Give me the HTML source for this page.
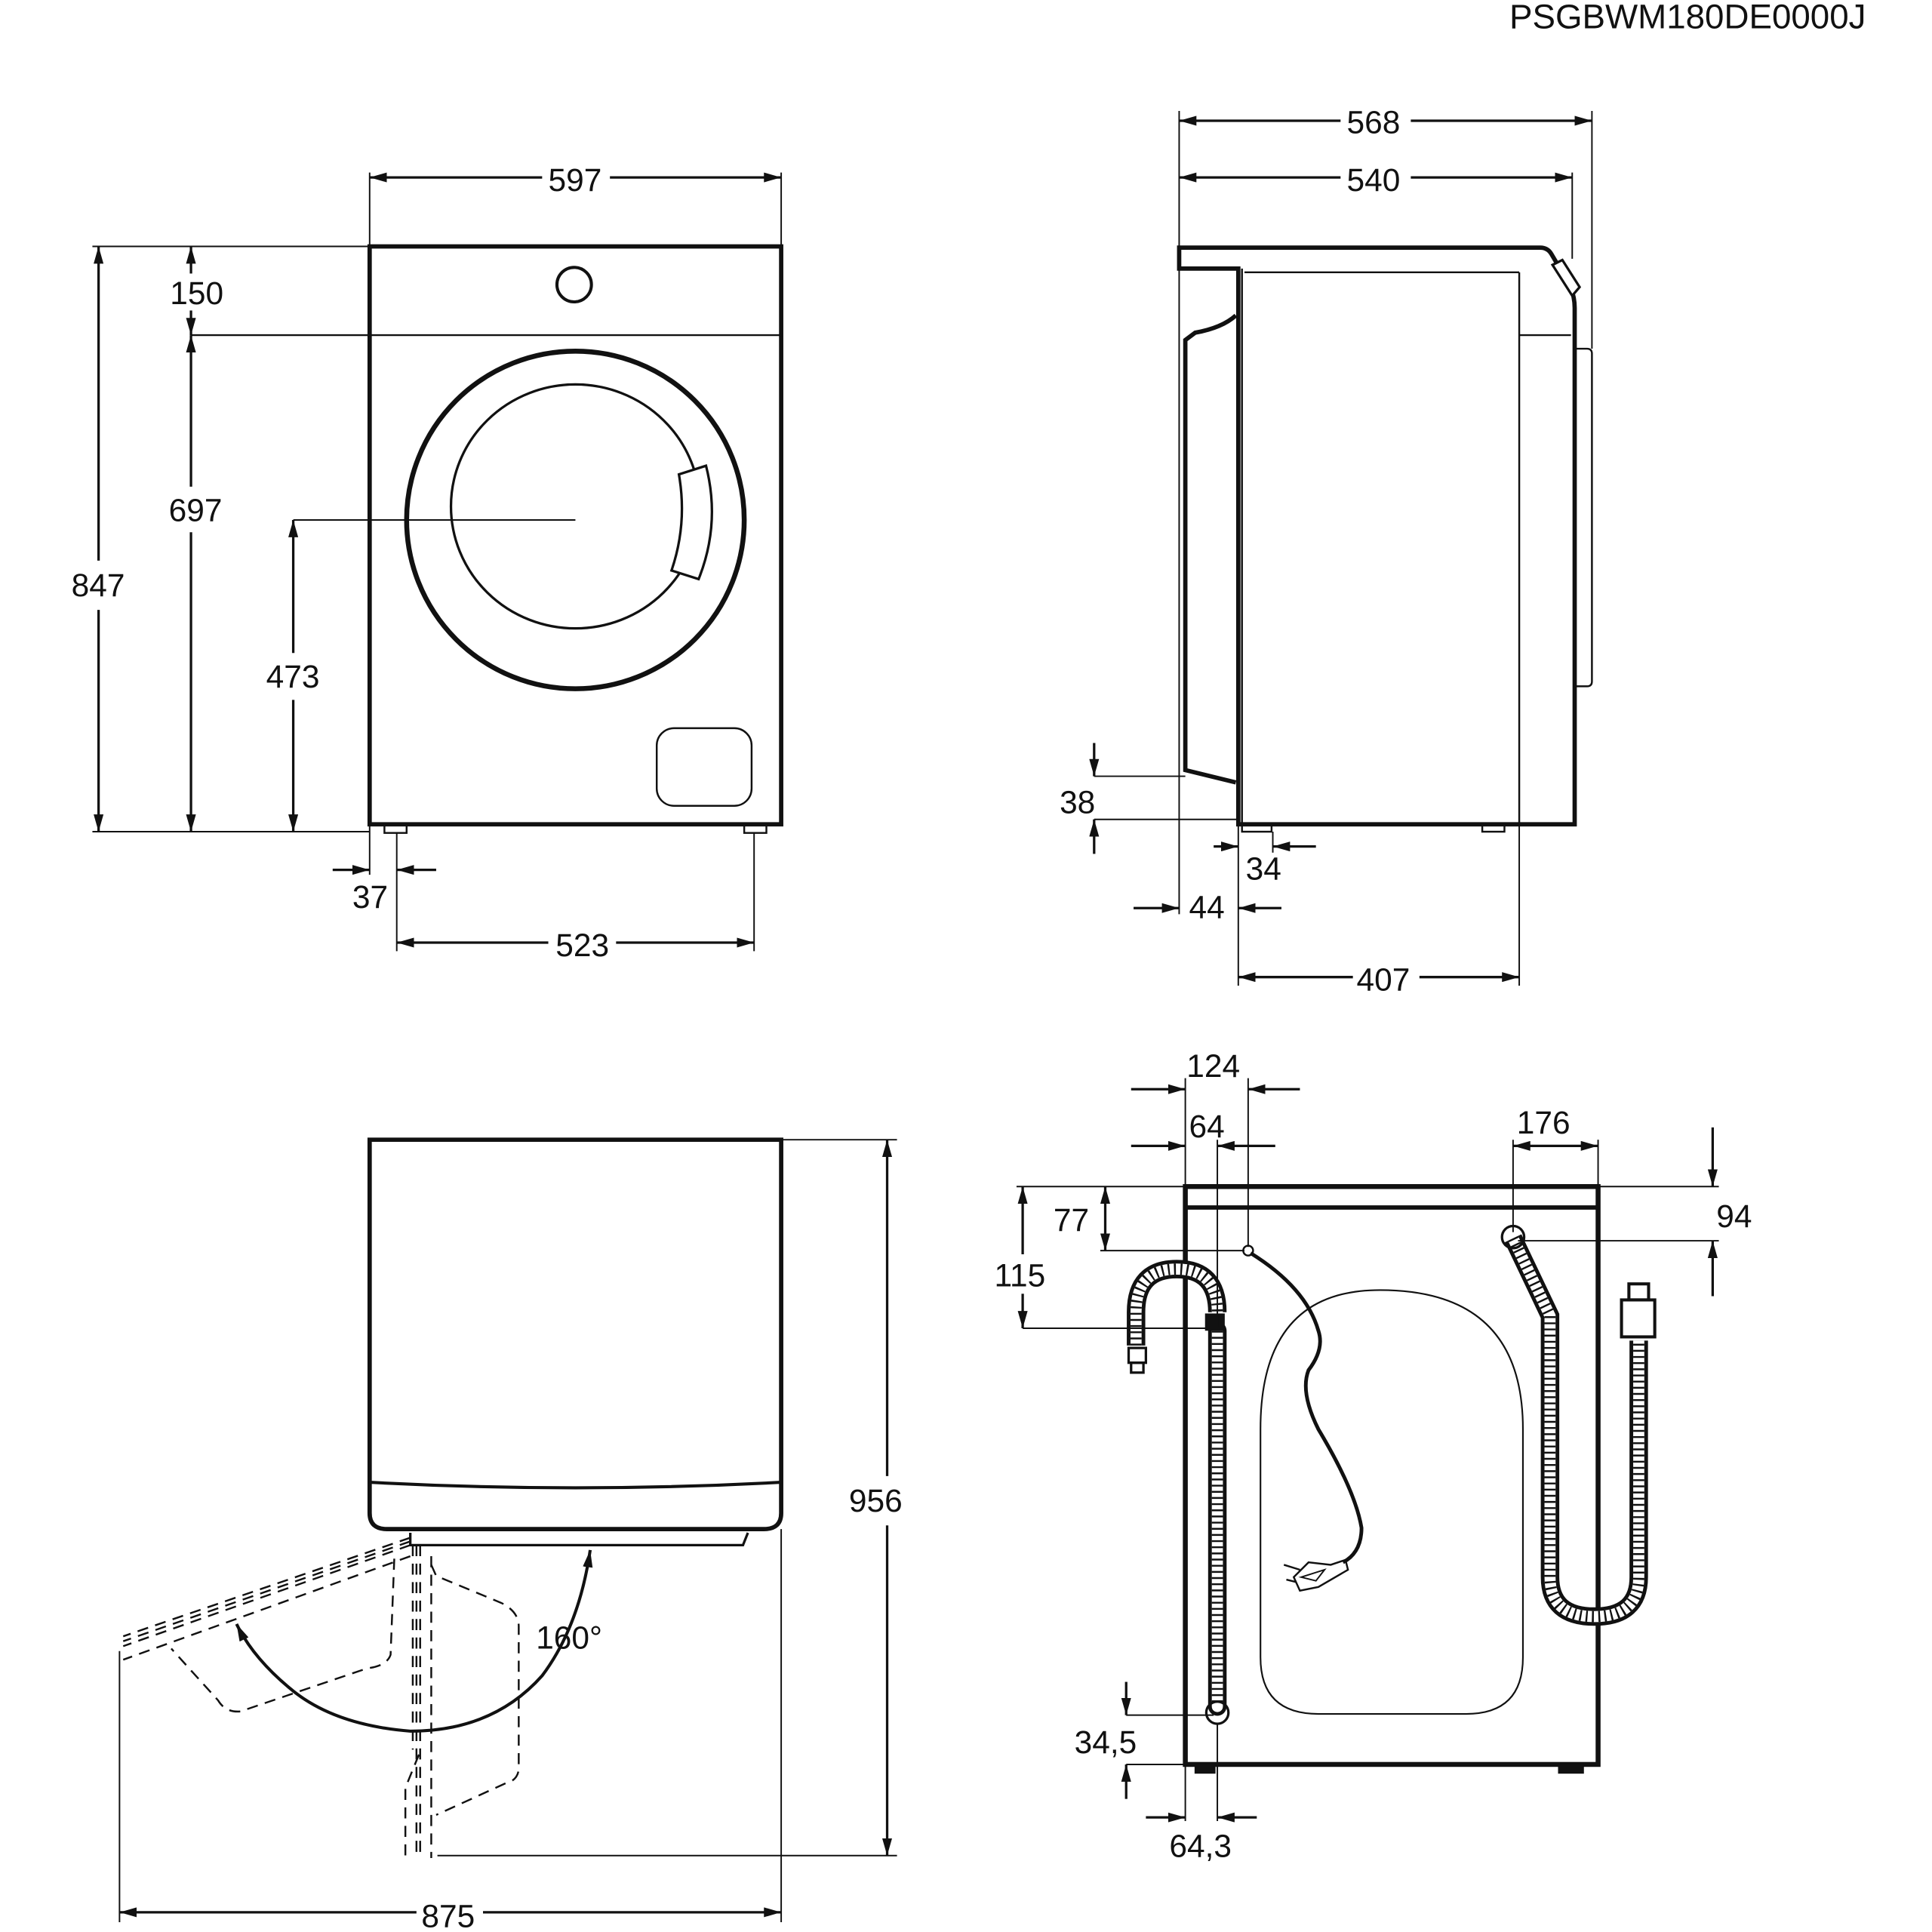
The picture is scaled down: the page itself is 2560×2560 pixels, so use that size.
<!DOCTYPE html>
<html><head><meta charset="utf-8"><style>html,body{margin:0;padding:0;background:#fff}svg{display:block}text{font-family:"Liberation Sans",sans-serif;font-size:26px;fill:#111}</style></head>
<body>
<svg width="2560" height="2560" viewBox="0 0 1568 1568" xmlns="http://www.w3.org/2000/svg">
<defs>
<marker id="a" viewBox="0 0 14 8" refX="14" refY="4" markerWidth="14" markerHeight="8" markerUnits="userSpaceOnUse" orient="auto-start-reverse"><path d="M0,0 L14,4 L0,8z" fill="#111"/></marker>
</defs>
<text x="1225" y="23" style="font-size:28px">PSGBWM180DE0000J</text>

<g fill="none" stroke="#111">
<!-- FRONT VIEW -->
<rect x="300" y="200" width="334" height="469" stroke-width="3.5"/>
<line x1="155" y1="272" x2="634" y2="272" stroke-width="1.5"/>
<circle cx="466" cy="231" r="14" stroke-width="2.5"/>
<ellipse cx="467" cy="422" rx="137" ry="137" stroke-width="4"/>
<ellipse cx="467" cy="411" rx="101" ry="99" stroke-width="2"/>
<path d="M551,385 L573,378 Q585,425 567,470 L545,463 Q558,425 551,385z" fill="#fff" stroke-width="2"/>
<rect x="533" y="591" width="77" height="63" rx="14" stroke-width="1.5"/>
<rect x="312" y="669" width="18" height="7" stroke-width="1.5"/>
<rect x="604" y="669" width="18" height="7" stroke-width="1.5"/>
<line x1="300" y1="140" x2="300" y2="200" stroke-width="1.2"/>
<line x1="634" y1="140" x2="634" y2="200" stroke-width="1.2"/>
<line x1="300" y1="144" x2="440" y2="144" stroke-width="2" marker-start="url(#a)"/>
<line x1="495" y1="144" x2="634" y2="144" stroke-width="2" marker-end="url(#a)"/>
<line x1="75" y1="200" x2="300" y2="200" stroke-width="1.2"/>
<line x1="75" y1="675" x2="300" y2="675" stroke-width="1.2"/>
<line x1="80" y1="200" x2="80" y2="455" stroke-width="2" marker-start="url(#a)"/>
<line x1="80" y1="495" x2="80" y2="675" stroke-width="2" marker-end="url(#a)"/>
<line x1="155" y1="200" x2="155" y2="222" stroke-width="2" marker-start="url(#a)"/>
<line x1="155" y1="252" x2="155" y2="272" stroke-width="2" marker-end="url(#a)"/>
<line x1="155" y1="272" x2="155" y2="395" stroke-width="2" marker-start="url(#a)"/>
<line x1="155" y1="432" x2="155" y2="675" stroke-width="2" marker-end="url(#a)"/>
<line x1="238" y1="422" x2="467" y2="422" stroke-width="1.2"/>
<line x1="238" y1="422" x2="238" y2="530" stroke-width="2" marker-start="url(#a)"/>
<line x1="238" y1="568" x2="238" y2="675" stroke-width="2" marker-end="url(#a)"/>
<line x1="300" y1="669" x2="300" y2="710" stroke-width="1.2"/>
<line x1="322" y1="676" x2="322" y2="772" stroke-width="1.2"/>
<line x1="612" y1="676" x2="612" y2="772" stroke-width="1.2"/>
<line x1="270" y1="706" x2="300" y2="706" stroke-width="2" marker-end="url(#a)"/>
<line x1="354" y1="706" x2="322" y2="706" stroke-width="2" marker-end="url(#a)"/>
<line x1="322" y1="765" x2="445" y2="765" stroke-width="2" marker-start="url(#a)"/>
<line x1="500" y1="765" x2="612" y2="765" stroke-width="2" marker-end="url(#a)"/>

<!-- SIDE VIEW -->
<path d="M957,201 L1250,201 Q1256,201 1259,206 L1272,228 Q1278,238 1278,250 L1278,669 L1005,669 L1005,218 L957,218z" stroke-width="3.5"/>
<line x1="1010" y1="221" x2="1233" y2="221" stroke-width="1.5"/>
<line x1="1233" y1="221" x2="1233" y2="669" stroke-width="1.5"/>
<line x1="1008" y1="218" x2="1008" y2="669" stroke-width="1.5"/>
<line x1="1233" y1="272" x2="1275" y2="272" stroke-width="1.5"/>
<path d="M1260,215 L1268,211 L1282,233 L1276,240z" fill="#fff" stroke-width="2"/>
<path d="M1003,256 Q992,266 970,270 L962,276 L962,625 L1003,635" stroke-width="3.5"/>
<path d="M1278,283 L1288,283 Q1292,283 1292,287 L1292,553 Q1292,557 1288,557 L1278,557" stroke-width="1.5"/>
<rect x="1008" y="669" width="24" height="6" stroke-width="1.5"/>
<rect x="1203" y="669" width="18" height="6" stroke-width="1.5"/>
<line x1="957" y1="90" x2="957" y2="742" stroke-width="1.2"/>
<line x1="1292" y1="90" x2="1292" y2="283" stroke-width="1.2"/>
<line x1="1276" y1="140" x2="1276" y2="210" stroke-width="1.2"/>
<line x1="957" y1="98" x2="1088" y2="98" stroke-width="2" marker-start="url(#a)"/>
<line x1="1145" y1="98" x2="1292" y2="98" stroke-width="2" marker-end="url(#a)"/>
<line x1="957" y1="144" x2="1088" y2="144" stroke-width="2" marker-start="url(#a)"/>
<line x1="1145" y1="144" x2="1276" y2="144" stroke-width="2" marker-end="url(#a)"/>
<line x1="888" y1="630" x2="962" y2="630" stroke-width="1.2"/>
<line x1="888" y1="665" x2="1005" y2="665" stroke-width="1.2"/>
<line x1="888" y1="603" x2="888" y2="630" stroke-width="2" marker-end="url(#a)"/>
<line x1="888" y1="693" x2="888" y2="665" stroke-width="2" marker-end="url(#a)"/>
<line x1="1005" y1="669" x2="1005" y2="800" stroke-width="1.2"/>
<line x1="1033" y1="675" x2="1033" y2="692" stroke-width="1.2"/>
<line x1="1233" y1="669" x2="1233" y2="800" stroke-width="1.2"/>
<line x1="985" y1="687" x2="1005" y2="687" stroke-width="2" marker-end="url(#a)"/>
<line x1="1068" y1="687" x2="1033" y2="687" stroke-width="2" marker-end="url(#a)"/>
<line x1="920" y1="737" x2="957" y2="737" stroke-width="2" marker-end="url(#a)"/>
<line x1="1040" y1="737" x2="1005" y2="737" stroke-width="2" marker-end="url(#a)"/>
<line x1="1005" y1="793" x2="1098" y2="793" stroke-width="2" marker-start="url(#a)"/>
<line x1="1152" y1="793" x2="1233" y2="793" stroke-width="2" marker-end="url(#a)"/>

<!-- TOP VIEW with door -->
<path d="M300,925 L634,925 L634,1228 Q634,1241 620,1241 L314,1241 Q300,1241 300,1228z" stroke-width="3.5"/>
<path d="M300,1203 Q467,1212 634,1203" stroke-width="2.5"/>
<path d="M333,1244 L333,1254 L603,1254 L607,1244" stroke-width="2"/>
<line x1="634" y1="925" x2="728" y2="925" stroke-width="1.2"/>
<line x1="355" y1="1506" x2="728" y2="1506" stroke-width="1.2"/>
<line x1="720" y1="925" x2="720" y2="1198" stroke-width="2" marker-start="url(#a)"/>
<line x1="720" y1="1238" x2="720" y2="1506" stroke-width="2" marker-end="url(#a)"/>
<line x1="97" y1="1340" x2="97" y2="1560" stroke-width="1.2"/>
<line x1="634" y1="1241" x2="634" y2="1560" stroke-width="1.2"/>
<line x1="97" y1="1552" x2="338" y2="1552" stroke-width="2" marker-start="url(#a)"/>
<line x1="392" y1="1552" x2="634" y2="1552" stroke-width="2" marker-end="url(#a)"/>
<g stroke-width="1.5" stroke-dasharray="9,6">
<path d="M333,1248 L100,1328"/>
<path d="M333,1251 L100,1332"/>
<path d="M333,1254 L100,1336"/>
<path d="M333,1263 L100,1347"/>
<path d="M320,1265 L317,1343 Q314,1352 298,1354 L195,1389 Q183,1390 177,1380 L139,1338"/>
<path d="M335,1254 L335,1420"/>
<path d="M338,1254 L338,1506"/>
<path d="M341,1254 L341,1506"/>
<path d="M350,1263 L350,1508"/>
<path d="M350,1270 L354,1279 L407,1301 Q421,1308 421,1320 L421,1436 Q420,1445 411,1447 L354,1473"/>
<path d="M340,1424 L329,1451 L329,1506"/>
</g>
<path d="M479,1258 Q470,1320 440,1360 Q400,1405 333,1405 Q270,1400 235,1370 Q205,1345 192,1318" stroke-width="2.5" marker-start="url(#a)" marker-end="url(#a)"/>

<!-- BACK VIEW -->
<rect x="962" y="963" width="335" height="469" stroke-width="4"/>
<line x1="962" y1="980" x2="1297" y2="980" stroke-width="3.5"/>
<path d="M1120,1047 Q1236,1047 1236,1160 L1236,1345 Q1236,1391 1190,1391 L1070,1391 Q1023,1391 1023,1345 L1023,1160 Q1023,1047 1120,1047z" stroke-width="1.3"/>
<rect x="970" y="1432" width="16" height="7" fill="#111" stroke-width="1"/>
<rect x="1265" y="1432" width="20" height="7" fill="#111" stroke-width="1"/>
<g>
<path d="M988,1080 L988,1385" stroke-width="15" stroke-linecap="round"/>
<path d="M988,1080 L988,1385" stroke="#fff" stroke-width="9" stroke-linecap="round"/>
<path d="M988,1080 L988,1385" stroke-width="9" stroke-dasharray="1.5,3.5"/>
<path d="M922,1092 L922,1065 Q922,1030 955,1030 Q988,1030 988,1065" stroke-width="15"/>
<path d="M922,1092 L922,1065 Q922,1030 955,1030 Q988,1030 988,1065" stroke="#fff" stroke-width="9"/>
<path d="M922,1092 L922,1065 Q922,1030 955,1030 Q988,1030 988,1065" stroke-width="9" stroke-dasharray="1.5,3.5"/>
<rect x="978" y="1066" width="16" height="14" fill="#111" stroke="none"/>
<rect x="916" y="1094" width="14" height="12" stroke-width="2"/>
<rect x="918" y="1106" width="10" height="8" stroke-width="2"/>
<path d="M1228,1005 L1258,1068 L1258,1280 Q1258,1312 1294,1312 Q1330,1312 1330,1280 L1330,1088" stroke-width="15"/>
<path d="M1228,1005 L1258,1068 L1258,1280 Q1258,1312 1294,1312 Q1330,1312 1330,1280 L1330,1088" stroke="#fff" stroke-width="9"/>
<path d="M1228,1005 L1258,1068 L1258,1280 Q1258,1312 1294,1312 Q1330,1312 1330,1280 L1330,1088" stroke-width="9" stroke-dasharray="1.5,3.5"/>
<circle cx="1228" cy="1004" r="9" stroke-width="2"/>
<circle cx="988" cy="1390" r="9" stroke-width="2"/>
<rect x="1316" y="1055" width="27" height="30" stroke-width="2.5"/>
<rect x="1322" y="1042" width="16" height="13" stroke-width="2.5"/>
</g>
<circle cx="1013" cy="1015" r="4" stroke-width="1.5"/>
<path d="M1015,1017 Q1060,1045 1070,1080 Q1075,1095 1062,1112 Q1055,1130 1070,1160 Q1100,1210 1105,1240 Q1105,1260 1090,1268" stroke-width="3"/>
<path d="M1092,1266 L1080,1270 L1062,1268 L1050,1280 L1055,1291 L1070,1288 L1094,1274z" stroke-width="1.5"/>
<path d="M1056,1280 L1075,1274 L1068,1283z" stroke-width="1.2"/>
<line x1="1042" y1="1270" x2="1055" y2="1274" stroke-width="1.5"/>
<line x1="1044" y1="1282" x2="1052" y2="1284" stroke-width="1.5"/>
<line x1="962" y1="875" x2="962" y2="963" stroke-width="1.2"/>
<line x1="1013" y1="875" x2="1013" y2="1012" stroke-width="1.2"/>
<line x1="988" y1="925" x2="988" y2="1078" stroke-width="1.2"/>
<line x1="918" y1="884" x2="962" y2="884" stroke-width="2" marker-end="url(#a)"/>
<line x1="1055" y1="884" x2="1013" y2="884" stroke-width="2" marker-end="url(#a)"/>
<line x1="918" y1="930" x2="962" y2="930" stroke-width="2" marker-end="url(#a)"/>
<line x1="1035" y1="930" x2="988" y2="930" stroke-width="2" marker-end="url(#a)"/>
<line x1="1228" y1="925" x2="1228" y2="1000" stroke-width="1.2"/>
<line x1="1297" y1="925" x2="1297" y2="963" stroke-width="1.2"/>
<line x1="1228" y1="930" x2="1297" y2="930" stroke-width="2" marker-start="url(#a)" marker-end="url(#a)"/>
<line x1="1297" y1="963" x2="1395" y2="963" stroke-width="1.2"/>
<line x1="1232" y1="1007" x2="1395" y2="1007" stroke-width="1.2"/>
<line x1="1390" y1="915" x2="1390" y2="963" stroke-width="2" marker-end="url(#a)"/>
<line x1="1390" y1="1052" x2="1390" y2="1007" stroke-width="2" marker-end="url(#a)"/>
<line x1="825" y1="963" x2="962" y2="963" stroke-width="1.2"/>
<line x1="893" y1="1015" x2="1010" y2="1015" stroke-width="1.2"/>
<line x1="830" y1="1078" x2="995" y2="1078" stroke-width="1.2"/>
<line x1="897" y1="963" x2="897" y2="1015" stroke-width="2" marker-start="url(#a)" marker-end="url(#a)"/>
<line x1="830" y1="963" x2="830" y2="1018" stroke-width="2" marker-start="url(#a)"/>
<line x1="830" y1="1050" x2="830" y2="1078" stroke-width="2" marker-end="url(#a)"/>
<line x1="914" y1="1392" x2="985" y2="1392" stroke-width="1.2"/>
<line x1="914" y1="1432" x2="962" y2="1432" stroke-width="1.2"/>
<line x1="914" y1="1365" x2="914" y2="1392" stroke-width="2" marker-end="url(#a)"/>
<line x1="914" y1="1460" x2="914" y2="1432" stroke-width="2" marker-end="url(#a)"/>
<line x1="962" y1="1432" x2="962" y2="1478" stroke-width="1.2"/>
<line x1="988" y1="1398" x2="988" y2="1478" stroke-width="1.2"/>
<line x1="930" y1="1475" x2="962" y2="1475" stroke-width="2" marker-end="url(#a)"/>
<line x1="1020" y1="1475" x2="988" y2="1475" stroke-width="2" marker-end="url(#a)"/>
</g>

<text x="445" y="155">597</text>
<text x="58" y="484">847</text>
<text x="138" y="247">150</text>
<text x="137" y="423">697</text>
<text x="216" y="558">473</text>
<text x="286" y="737">37</text>
<text x="451" y="776">523</text>
<text x="1093" y="108">568</text>
<text x="1093" y="155">540</text>
<text x="860" y="660">38</text>
<text x="1011" y="714">34</text>
<text x="965" y="745">44</text>
<text x="1101" y="804">407</text>
<text x="689" y="1227">956</text>
<text x="342" y="1564">875</text>
<text x="435" y="1338">160°</text>
<text x="963" y="874">124</text>
<text x="965" y="923">64</text>
<text x="1231" y="920">176</text>
<text x="1393" y="996">94</text>
<text x="855" y="999">77</text>
<text x="807" y="1044">115</text>
<text x="872" y="1423">34,5</text>
<text x="949" y="1507">64,3</text>
</svg>
</body></html>
